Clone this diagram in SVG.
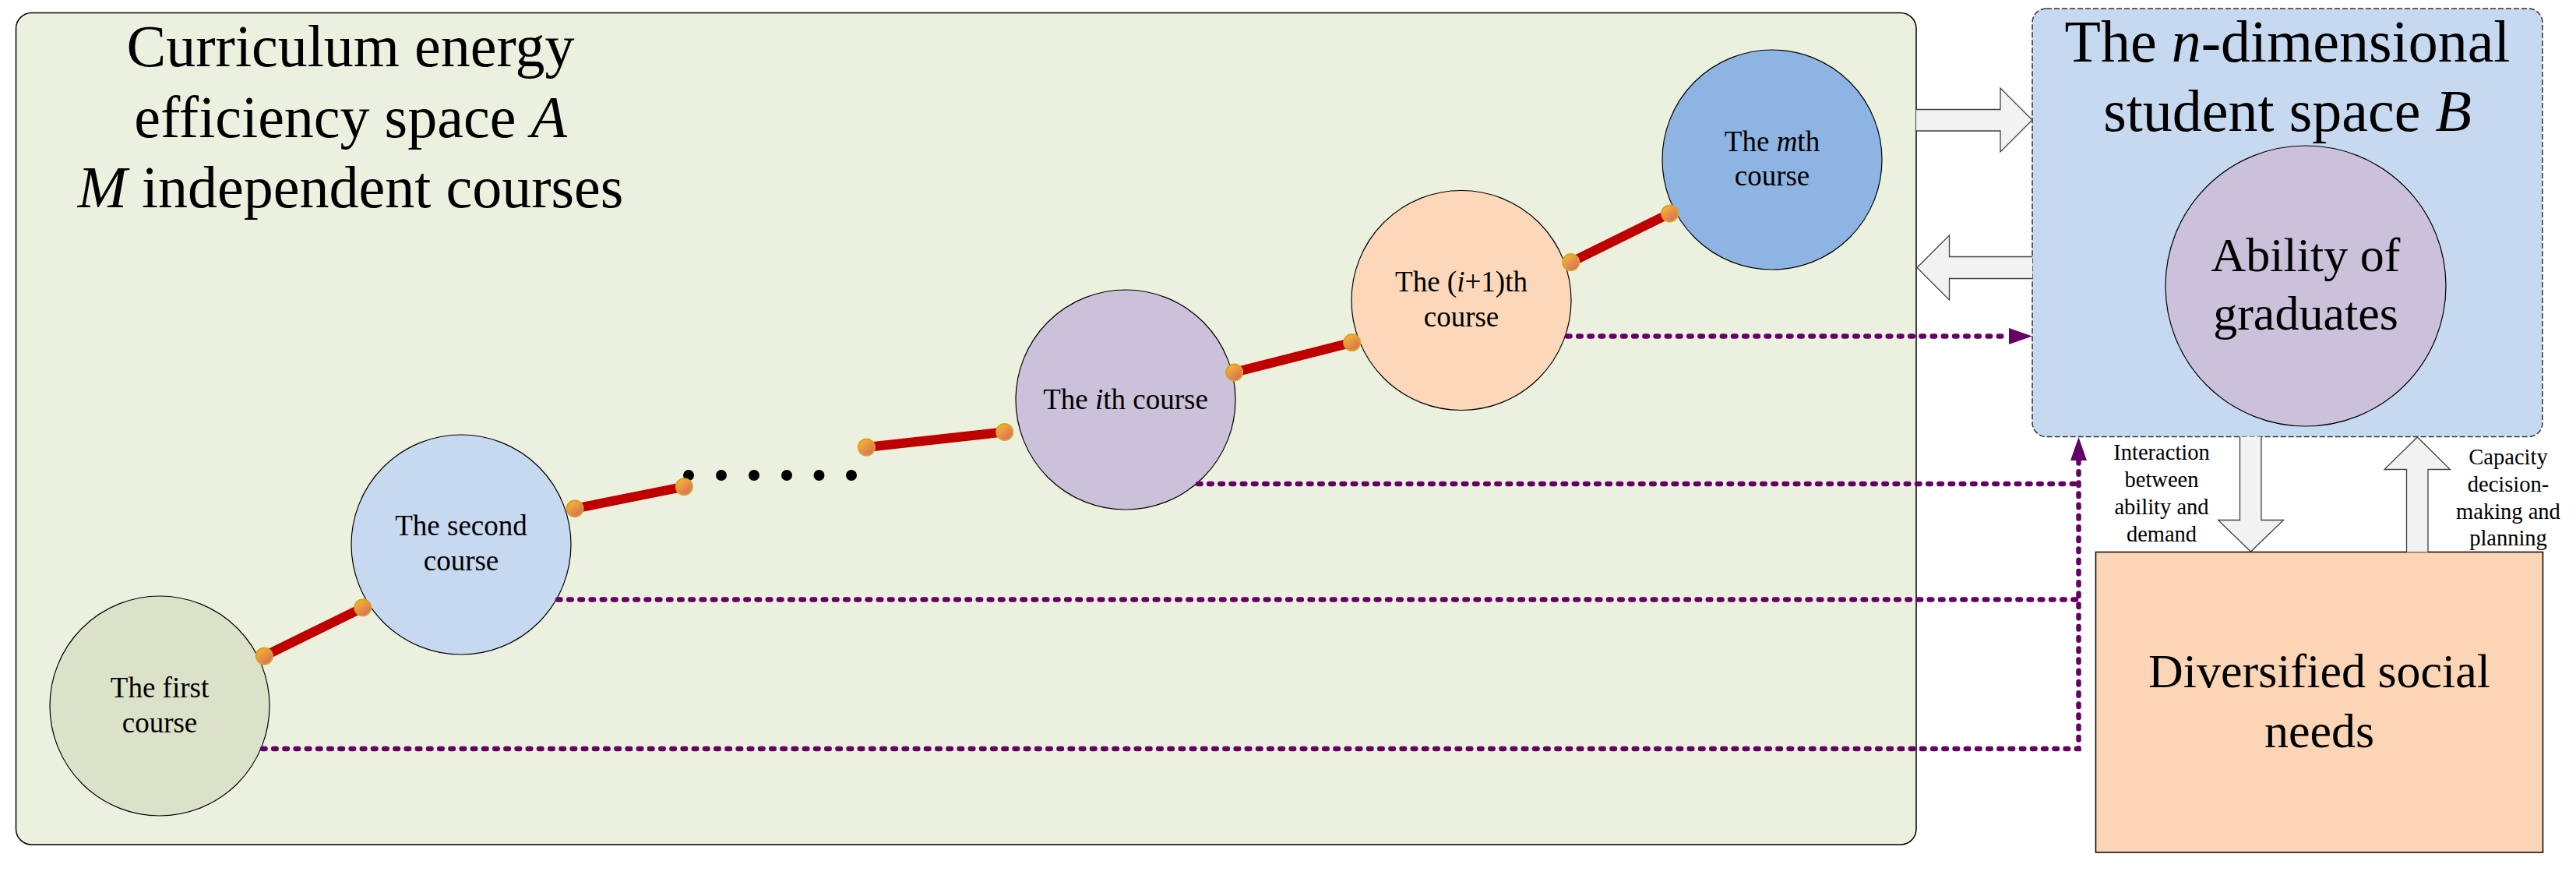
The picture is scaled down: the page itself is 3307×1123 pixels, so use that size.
<svg xmlns="http://www.w3.org/2000/svg" width="3307" height="1123" viewBox="0 0 3307 1123">
<style>
text{font-family:"Liberation Serif","Times New Roman",serif;fill:#000}
.title{font-size:76px;text-anchor:middle}
.big{font-size:62px;text-anchor:middle}
.course{font-size:37px;text-anchor:middle}
.side{font-size:28.5px;text-anchor:middle}
.circ{stroke:#000;stroke-width:1.2}
.blk{fill:#F2F2F2;stroke:#404040;stroke-width:1.3}
.link{stroke:#C00000;stroke-width:12;fill:none}
.knob{fill:url(#og);stroke:#D6A12A;stroke-width:2}
.pdot{stroke:#660066;stroke-width:6.5;fill:none;stroke-dasharray:3.5 10.7;stroke-linecap:round}
.edot{fill:#000}
</style>
<defs>
<linearGradient id="og" x1="0.2" y1="0.1" x2="0.8" y2="0.9">
<stop offset="0" stop-color="#F5B42E"/>
<stop offset="1" stop-color="#D86E5E"/>
</linearGradient>
<marker id="ah" viewBox="0 0 30 21" refX="0" refY="10.5" markerWidth="30" markerHeight="21" orient="auto" markerUnits="userSpaceOnUse">
<path d="M0,0 L30,10.5 L0,21 Z" fill="#660066"/>
</marker>
</defs>

<g id="spaceA">
<rect x="20.5" y="16.5" width="2439.5" height="1067.5" rx="20" fill="#EBF1DE" stroke="#000" stroke-width="1.5"/>
<text class="title" x="450" y="85">Curriculum energy</text>
<text class="title" x="450" y="175.5">efficiency space <tspan font-style="italic">A</tspan></text>
<text class="title" x="450" y="266"><tspan font-style="italic">M</tspan> independent courses</text>
</g>

<g id="spaceB">
<rect x="2609" y="11" width="655" height="549.5" rx="18" fill="#C6D9F1" stroke="#333" stroke-width="1.5" stroke-dasharray="7 3"/>
<text class="title" x="2936.5" y="78.5">The <tspan font-style="italic">n</tspan>-dimensional</text>
<text class="title" x="2936.5" y="168">student space <tspan font-style="italic">B</tspan></text>
</g>

<g id="ability">
<circle class="circ" cx="2960" cy="367" r="180" fill="#CCC1DA"/>
<text class="big" x="2960" y="348">Ability of</text>
<text class="big" x="2960" y="423">graduates</text>
</g>

<g id="social">
<rect x="2690.5" y="708.5" width="574" height="385.5" fill="#FBD5B5" stroke="#000" stroke-width="1.5"/>
<text class="big" x="2977.5" y="882">Diversified social</text>
<text class="big" x="2977.5" y="958.5">needs</text>
</g>

<g id="course1">
<circle class="circ" cx="205" cy="906" r="141" fill="#DCE1CA"/>
<text class="course" x="205" y="895">The first</text>
<text class="course" x="205" y="940">course</text>
</g>
<g id="course2">
<circle class="circ" cx="592" cy="699" r="141" fill="#C6D9F1"/>
<text class="course" x="592" y="687">The second</text>
<text class="course" x="592" y="732">course</text>
</g>
<g id="coursei">
<circle class="circ" cx="1445" cy="513" r="141" fill="#CCC1DA"/>
<text class="course" x="1445" y="524.5">The <tspan font-style="italic">i</tspan>th course</text>
</g>
<g id="coursei1">
<circle class="circ" cx="1876" cy="385.5" r="141" fill="#FCD7B9"/>
<text class="course" x="1876" y="373.5">The (<tspan font-style="italic">i</tspan>+1)th</text>
<text class="course" x="1876" y="419">course</text>
</g>
<g id="coursem">
<circle class="circ" cx="2275" cy="205" r="141" fill="#8EB4E3"/>
<text class="course" x="2275" y="193.5">The <tspan font-style="italic">m</tspan>th</text>
<text class="course" x="2275" y="237.5">course</text>
</g>

<g id="labels">
<text class="side" x="2775" y="590">Interaction</text>
<text class="side" x="2775" y="625">between</text>
<text class="side" x="2775" y="660">ability and</text>
<text class="side" x="2775" y="694.5">demand</text>
<text class="side" x="3220" y="596">Capacity</text>
<text class="side" x="3220" y="630.5">decision-</text>
<text class="side" x="3220" y="665.5">making and</text>
<text class="side" x="3220" y="700">planning</text>
</g>

<g id="connectors">
<path class="blk" d="M2460,140.5 H2568 V113 L2609,154 L2568,195 V168 H2460"/>
<path class="blk" d="M2609,329.5 H2502.5 V302 L2461,343.5 L2502.5,385 V357.5 H2609"/>
<path class="blk" d="M2875.5,560.5 V667.5 H2847.5 L2889.5,708 L2931.5,667.5 H2903 V560.5"/>
<path class="blk" d="M3089.5,708.5 V602.5 H3061 L3103.3,561 L3145.5,602.5 H3117 V708.5"/>

<line class="link" x1="339.3" y1="842" x2="465.8" y2="779.8"/>
<line class="link" x1="738" y1="652.7" x2="878.3" y2="624.7"/>
<line class="link" x1="1112.4" y1="574" x2="1289.7" y2="554.4"/>
<line class="link" x1="1584.6" y1="477.9" x2="1735.7" y2="439.6"/>
<line class="link" x1="2016.7" y1="336.6" x2="2143.6" y2="273.9"/>

<circle class="edot" cx="884" cy="610" r="7"/>
<circle class="edot" cx="926" cy="610" r="7"/>
<circle class="edot" cx="968" cy="610" r="7"/>
<circle class="edot" cx="1010" cy="610" r="7"/>
<circle class="edot" cx="1051.5" cy="610" r="7"/>
<circle class="edot" cx="1093" cy="610" r="7"/>

<circle class="knob" cx="339.3" cy="842" r="10.5"/>
<circle class="knob" cx="465.8" cy="779.8" r="10.5"/>
<circle class="knob" cx="738" cy="652.7" r="10.5"/>
<circle class="knob" cx="878.3" cy="624.7" r="10.5"/>
<circle class="knob" cx="1112.4" cy="574" r="10.5"/>
<circle class="knob" cx="1289.7" cy="554.4" r="10.5"/>
<circle class="knob" cx="1584.6" cy="477.9" r="10.5"/>
<circle class="knob" cx="1735.7" cy="439.6" r="10.5"/>
<circle class="knob" cx="2016.7" cy="336.6" r="10.5"/>
<circle class="knob" cx="2143.6" cy="273.9" r="10.5"/>

<path class="pdot" d="M2012,431.5 H2579" marker-end="url(#ah)"/>
<path class="pdot" d="M1538,621 H2668.5"/>
<path class="pdot" d="M716,769.5 H2668.5"/>
<path class="pdot" d="M337,961 H2668.5 V591" marker-end="url(#ah)"/>
</g>
</svg>
